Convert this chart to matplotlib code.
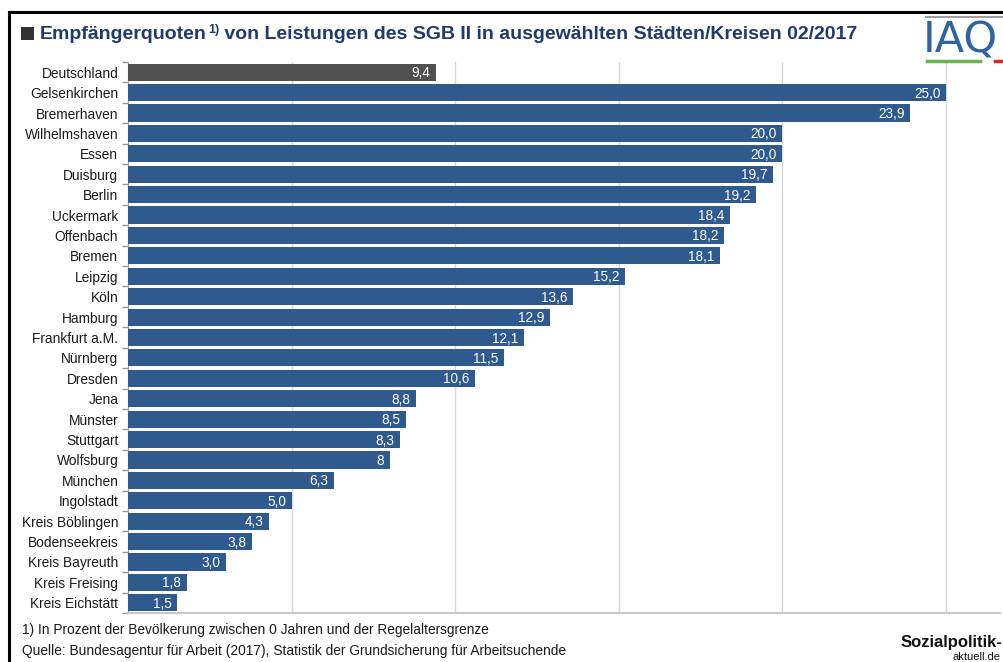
import matplotlib
matplotlib.use("Agg")
import matplotlib.pyplot as plt
from matplotlib.patches import Rectangle
from matplotlib.lines import Line2D
from matplotlib.transforms import offset_copy
import numpy as np

plt.rcParams['font.family'] = ['Liberation Sans', 'DejaVu Sans']

regions = ["Deutschland", "Gelsenkirchen", "Bremerhaven", "Wilhelmshaven", "Essen",
           "Duisburg", "Berlin", "Uckermark", "Offenbach", "Bremen", "Leipzig", "Köln",
           "Hamburg", "Frankfurt a.M.", "Nürnberg", "Dresden", "Jena", "Münster",
           "Stuttgart", "Wolfsburg", "München", "Ingolstadt", "Kreis Böblingen",
           "Bodenseekreis", "Kreis Bayreuth", "Kreis Freising", "Kreis Eichstätt"]
quotes = [9.4, 25.0, 23.9, 20.0, 20.0, 19.7, 19.2, 18.4, 18.2, 18.1, 15.2, 13.6,
          12.9, 12.1, 11.5, 10.6, 8.8, 8.5, 8.3, 8, 6.3, 5.0, 4.3, 3.8, 3.0, 1.8, 1.5]
grid_ticks = [5, 10, 15, 20, 25]

title_head = "Empfängerquoten"
title_sup = "1)"
title_tail = " von Leistungen des SGB II in ausgewählten Städten/Kreisen 02/2017"
note = "1) In Prozent der Bevölkerung zwischen 0 Jahren und der Regelaltersgrenze"
source = "Quelle: Bundesagentur für Arbeit (2017), Statistik der Grundsicherung für Arbeitsuchende"

BLUE = "#2f5a8e"
GREY = "#505050"
TITLE_C = "#1f3a6e"

W, H = 1004, 662
fig = plt.figure(figsize=(W / 100, H / 100), dpi=100)

def fx(px):
    return px / W

def fy(py):
    return 1 - py / H

ax = fig.add_axes([fx(128), fy(613), fx(1000) - fx(128), fy(62) - fy(613)])

y = np.arange(len(regions))
colors = [GREY] + [BLUE] * (len(regions) - 1)
ax.barh(y, quotes, height=0.84, color=colors, zorder=3)

def fmt(v):
    if isinstance(v, int):
        return str(v)
    return f"{v:.1f}".replace(".", ",")

for yi, v in zip(y, quotes):
    ax.text(v - 0.17, yi + 0.05, fmt(v), ha="right", va="center",
            color="white", fontsize=9.8, zorder=4)

ax.set_xlim(0, 26.65)
ax.set_ylim(len(regions) - 0.5, -0.5)

ax.set_xticks(grid_ticks)
ax.set_xticklabels([])
ax.tick_params(axis="x", length=0)
ax.grid(axis="x", color="#d8d8d8", linewidth=1.0, zorder=0)

ax.set_yticks(y)
ax.set_yticklabels(regions, fontsize=9.9, color="#1a1a1a")
ax.tick_params(axis="y", which="major", length=0, pad=7)
ax.set_yticks(np.arange(len(regions) + 1) - 0.5, minor=True)
ax.tick_params(axis="y", which="minor", length=4, color="#a89580", width=1)

for s in ["top", "right"]:
    ax.spines[s].set_visible(False)
ax.spines["left"].set_color("#b0a090")
ax.spines["bottom"].set_color("#c8c8c8")
ax.spines["bottom"].set_linewidth(1.5)

# outer frame lines (left and top)
fig.add_artist(Line2D([fx(9), fx(9)], [fy(12), 0], color="black", lw=2.2))
fig.add_artist(Line2D([fx(9), 1], [fy(12), fy(12)], color="black", lw=2.2))

# title with square marker, built from pieces so the footnote mark stays small
fig.add_artist(Rectangle((fx(21), fy(40)), fx(13), fy(27) - fy(40),
                         facecolor="#333333", edgecolor="none"))
renderer = fig.canvas.get_renderer()
t1 = fig.text(fx(40), fy(39), title_head, fontsize=14, fontweight="bold",
              color=TITLE_C, va="baseline", ha="left")
w1 = t1.get_window_extent(renderer).width
t2 = fig.text(fx(40) + w1 / W + 1 / W, fy(39), title_sup, fontsize=9, fontweight="bold",
              color=TITLE_C, va="baseline", ha="left",
              transform=offset_copy(fig.transFigure, fig=fig, y=6, units="dots"))
w2 = t2.get_window_extent(renderer).width
fig.text(fx(40) + (w1 + w2 + 1) / W, fy(39), title_tail, fontsize=14,
         fontweight="bold", color=TITLE_C, va="baseline", ha="left")

# IAQ logo
fig.add_artist(Line2D([fx(926), fx(1004)], [fy(17), fy(17)], color="#a0a0a0", lw=1.5))
fig.text(fx(923), fy(40), "IAQ", fontsize=31, color="#2e64a0", va="center",
         ha="left", family="Liberation Sans Narrow")
fig.add_artist(Line2D([fx(927), fx(980)], [fy(61), fy(61)], color="#6ab04c", lw=2.5))
fig.add_artist(Line2D([fx(995), fx(1004)], [fy(61), fy(61)], color="#d42a2a", lw=2.5))

# footnotes
fig.text(fx(22), fy(630), note, fontsize=9.9, color="#1a1a1a", va="center")
fig.text(fx(22), fy(651), source, fontsize=9.9, color="#1a1a1a", va="center")

# Sozialpolitik-aktuell logo
fig.text(fx(1002), fy(643), "Sozialpolitik-", fontsize=12, fontweight="bold",
         color="#111111", va="center", ha="right")
fig.text(fx(1001), fy(657), "aktuell.de", fontsize=8, color="#111111",
         va="center", ha="right")

fig.savefig("out.png", dpi=100, facecolor="white")
